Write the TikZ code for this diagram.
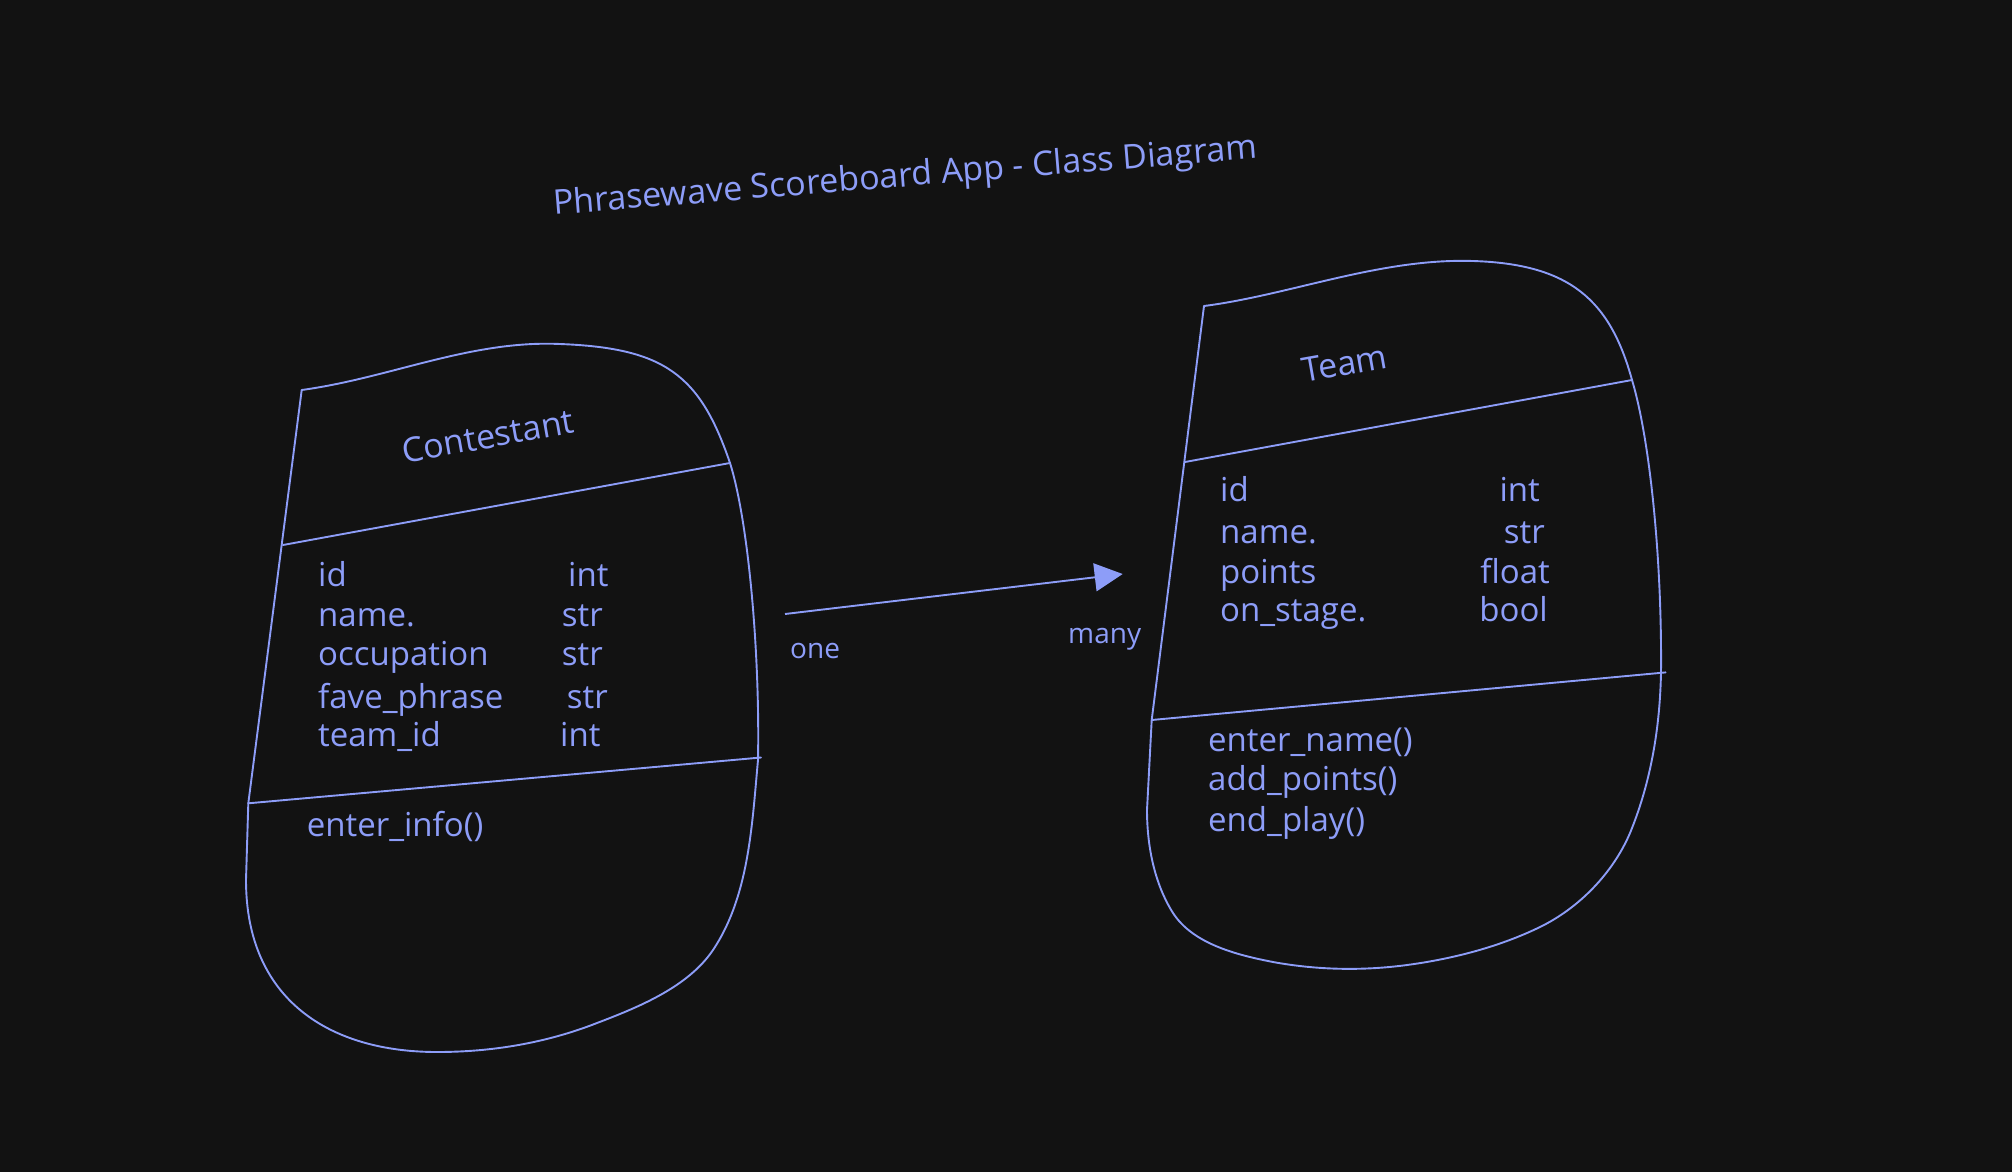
\documentclass[tikz,border=0pt]{standalone}
\usepackage{fontspec}
\setmainfont{Open Sans}
\usetikzlibrary{arrows.meta}
\definecolor{bg}{HTML}{121212}
\definecolor{ink}{HTML}{8D9DF8}
\begin{document}
\begin{tikzpicture}[x=1pt,y=-1pt,
  outline/.style={draw=ink, line width=1.9pt, line join=round, line cap=round},
  txt/.style={text=ink, inner sep=0pt, font=\fontsize{33}{38}\selectfont, anchor=base west},
  rtxt/.style={text=ink, inner sep=0pt, font=\fontsize{34}{40}\selectfont, anchor=base},
  lbl/.style={text=ink, inner sep=0pt, font=\fontsize{28}{33}\selectfont, anchor=base west},
  conn/.style={draw=ink, line width=1.9pt, -{Triangle[length=28pt,width=28pt]}}]
\fill[bg] (0,0) rectangle (2012,1172);
\useasboundingbox (0,0) rectangle (2012,1172);

% title
\node[rtxt, rotate=4.6] (title) at (906,186.5) {Phrasewave Scoreboard App - Class Diagram};

% ---------- Contestant ----------
\draw[outline] (301.7,390) .. controls (390,378) and (470,340) .. (560,344)
  .. controls (665,348) and (700,375) .. (730,463)
  .. controls (748,520) and (760,650) .. (758,760)
  .. controls (752,825) and (749,896) .. (713,950)
  .. controls (688,987) and (639,1007) .. (597,1023)
  .. controls (546,1043) and (492,1052) .. (437,1052)
  .. controls (330,1052) and (246,1000) .. (246,880)
  -- (248.3,803.3) -- cycle;
\draw[outline] (283,545) -- (730,463);
\draw[outline] (248.3,803.3) -- (761,757.5);

\node[rtxt, rotate=10] (cname) at (490,448) {Contestant};
\node[txt] (c1) at (318,586.7) {id};
\node[txt] (c2) at (318,626.7) {name.};
\node[txt] (c3) at (318,665) {occupation};
\node[txt] (c4) at (318,708) {fave\_phrase};
\node[txt] (c5) at (318,746.7) {team\_id};
\node[txt] (t1) at (568,586.7) {int};
\node[txt] (t2) at (561.7,626.7) {str};
\node[txt] (t3) at (561.7,665) {str};
\node[txt] (t4) at (566.7,708) {str};
\node[txt] (t5) at (560,746.7) {int};
\node[txt] (m1) at (306.7,836.7) {enter\_info()};

% ---------- Team ----------
\draw[outline] (1204,306) .. controls (1290,295) and (1380,258) .. (1473,261)
  .. controls (1570,264) and (1610,300) .. (1632,380)
  .. controls (1650,440) and (1662,560) .. (1661,672)
  .. controls (1660,727) and (1651,782) .. (1630,833)
  .. controls (1613,873) and (1579,908) .. (1540,927)
  .. controls (1499,947) and (1452,959) .. (1407,965)
  .. controls (1362,971) and (1317,970) .. (1273,962)
  .. controls (1237,955) and (1193,944) .. (1173,913)
  .. controls (1154,883) and (1147,845) .. (1147,810)
  -- (1151.7,720) -- cycle;
\draw[outline] (1185,462) -- (1632,380);
\draw[outline] (1151.7,720) -- (1665.6,672.4);

\node[rtxt, rotate=10] (tname) at (1346.7,375) {Team};
\node[txt] (d1) at (1220,501.7) {id};
\node[txt] (d2) at (1220,543.3) {name.};
\node[txt] (d3) at (1220,583.3) {points};
\node[txt] (d4) at (1220,621.7) {on\_stage.};
\node[txt, anchor=base east] (u1) at (1540,501.7) {int};
\node[txt, anchor=base east] (u2) at (1545,543.3) {str};
\node[txt, anchor=base east] (u3) at (1550,583.3) {float};
\node[txt, anchor=base east] (u4) at (1548,621.7) {bool};
\node[txt] (n1) at (1208,751.7) {enter\_name()};
\node[txt] (n2) at (1208,790) {add\_points()};
\node[txt] (n3) at (1208,831.7) {end\_play()};

% ---------- association ----------
\coordinate (arrS) at (785,614);
\coordinate (arrE) at (1122.7,574);
\draw[conn] (arrS) -- (arrE);
\node[lbl] (one) at (790,658) {one};
\node[lbl] (many) at (1068,643) {many};
\end{tikzpicture}
\end{document}
